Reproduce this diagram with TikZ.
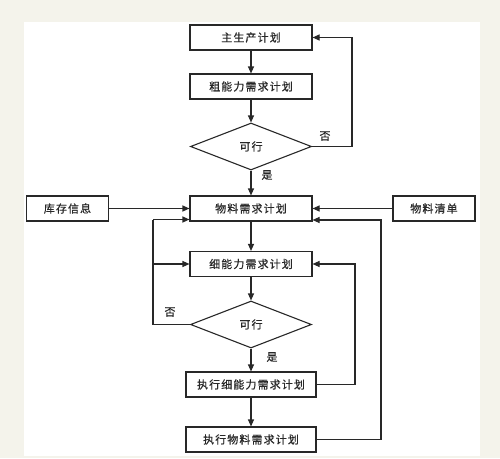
\documentclass[tikz,border=0pt]{standalone}
\usepackage{fontspec}
\newfontfamily\cjk[LetterSpace=10,FakeBold=0.6]{Noto Sans CJK SC}
\usetikzlibrary{shapes.geometric,arrows.meta}
\definecolor{paper}{RGB}{244,243,235}
\definecolor{ink}{RGB}{40,40,40}
\tikzset{
  box/.style={draw=ink,line width=1.1pt,fill=white,minimum width=122pt,minimum height=25pt,inner sep=0pt,font=\cjk\fontsize{11}{12}\selectfont,text=ink},
  wbox/.style={box,minimum width=130pt},
  sbox/.style={box,minimum width=82pt},
  dec/.style={diamond,draw=ink,line width=1.1pt,fill=white,minimum width=121pt,minimum height=47pt,inner sep=0pt,font=\cjk\fontsize{11}{12}\selectfont,text=ink},
  lbl/.style={font=\cjk\fontsize{11}{12}\selectfont,text=ink,inner sep=0pt},
  arr/.style={draw=ink,line width=1.1pt,-{Triangle[length=7pt,width=6pt]}},
  ln/.style={draw=ink,line width=1.1pt}
}
\begin{document}
\begin{tikzpicture}[x=1pt,y=-1pt]
\fill[paper] (0,0) rectangle (500,458);
\fill[white] (24,22) rectangle (480,456);
\useasboundingbox (0,0) rectangle (500,458);
\node[box] (mps) at (251,37.5) {主生产计划};
\node[box] (rccp) at (251,86.5) {粗能力需求计划};
\node[dec] (d1) at (251,146.5) {可行};
\node[box] (mrp) at (251,208.5) {物料需求计划};
\node[sbox] (inv) at (67.5,208.5) {库存信息};
\node[sbox] (bom) at (434,208.5) {物料清单};
\node[box] (crp) at (251,264) {细能力需求计划};
\node[dec] (d2) at (251,324.5) {可行};
\node[wbox] (ecrp) at (251,384.5) {执行细能力需求计划};
\node[wbox] (emrp) at (251,439.5) {执行物料需求计划};
\node[lbl] at (325,136) {否};
\node[lbl] at (267,175) {是};
\node[lbl] at (170,312) {否};
\node[lbl] at (272,357) {是};
\coordinate (l1) at (153,219.5);
\coordinate (l2) at (153,264);
\draw[arr] (mps) -- (rccp);
\draw[arr] (rccp) -- (d1);
\draw[arr] (d1) -- (mrp);
\draw[arr] (d1.east) -| (352,37.5) -- (mps.east);
\draw[arr] (inv) -- (mrp.west |- inv);
\draw[arr] (bom) -- (mrp.east |- bom);
\draw[arr] (mrp) -- (crp);
\draw[arr] (crp) -- (d2);
\draw[arr] (d2) -- (ecrp);
\draw[arr] (ecrp) -- (emrp);
\draw[ln] (d2.west) -| (l1);
\draw[arr] (l1) -- (mrp.west |- l1);
\draw[arr] (l2) -- (crp.west);
\draw[arr] (ecrp.east) -| (355,264) -- (crp.east);
\draw[arr] (emrp.east) -| (381,220) -- (mrp.east |- 0,220);
\end{tikzpicture}
\end{document}
